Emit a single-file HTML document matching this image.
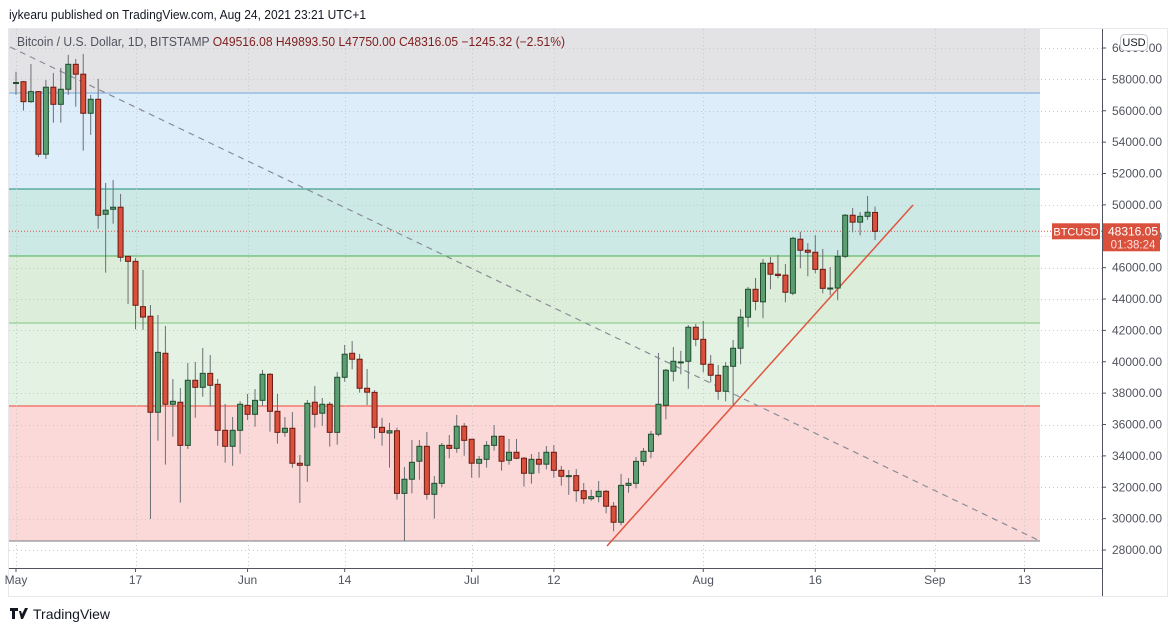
<!DOCTYPE html>
<html><head><meta charset="utf-8">
<style>
body{margin:0;background:#fff;width:1176px;height:632px;overflow:hidden;font-family:"Liberation Sans","DejaVu Sans",sans-serif;}
svg{display:block}
</style></head>
<body>
<svg id="chart" width="1176" height="632" viewBox="0 0 1176 632" xmlns="http://www.w3.org/2000/svg">
<text x="9" y="19" font-size="13" fill="#131722" textLength="357" lengthAdjust="spacingAndGlyphs">iykearu published on TradingView.com, Aug 24, 2021 23:21 UTC+1</text>
<rect x="8.5" y="28.5" width="1159" height="568" fill="#fff" stroke="#e6e8ee"/>
<g id="bands"></g>
<g id="grid"></g>
<g id="drawings"></g>
<g id="candles"></g>
<g id="axes"></g>
<text x="17" y="46" font-size="12.5" fill="#50535e" textLength="548" lengthAdjust="spacingAndGlyphs">Bitcoin / U.S. Dollar, 1D, BITSTAMP  <tspan fill="#7f1d1d">O49516.08  H49893.50  L47750.00  C48316.05  −1245.32 (−2.51%)</tspan></text>
<g>
<path d="M10 608h8v3h-3v8h-3v-8h-2z M19 611h2l1 3 3-6h3l-5 11h-2z" fill="#131722"/>
<text x="33" y="619" font-size="14" fill="#131722">TradingView</text>
</g>
</svg>
<script>
const opens=[57.75,57.85,56.58,57.22,53.23,57.5,56.41,57.37,58.96,58.33,55.84,56.73,49.4,49.72,49.85,46.72,46.4,43.51,42.9,36.78,40.54,37.29,37.42,34.67,38.82,38.37,39.26,38.56,35.63,34.61,35.63,37.22,36.65,37.54,39.2,36.84,35.5,35.76,33.53,33.4,37.42,36.72,37.29,35.5,39.01,40.54,40.16,38.31,38.05,35.82,35.46,35.6,31.61,32.51,33.66,34.61,31.55,32.25,34.67,34.48,35.89,35.06,33.53,33.78,34.67,35.25,33.72,34.23,33.85,32.89,33.78,33.47,34.23,33.08,32.7,32.74,31.78,31.27,31.4,31.74,30.79,29.77,32.12,32.25,33.65,34.29,35.38,37.22,39.4,39.95,40.03,42.2,41.43,39.84,39.14,38.12,39.71,40.86,42.84,44.62,43.82,46.28,45.58,45.52,44.37,47.81,47.11,46.98,45.89,44.66,44.7,46.72,49.34,48.9,49.27,49.516];
const highs=[58.49,57.9,58.98,57.25,57.96,58.41,58.73,59.56,59.3,59.62,57.01,58.03,51.4,51.59,50.7,46.74,46.61,45.85,43.62,42.98,42.28,38.9,38.33,39.92,39.99,40.88,40.43,38.9,37.31,36.48,37.48,37.95,38.26,39.48,39.28,37.95,36.48,36.8,34.06,37.56,38.46,37.69,37.44,39.35,41.07,41.32,40.5,39.54,38.2,36.42,36.1,35.8,33.29,35.01,35.01,35.52,32.72,34.82,35.33,36.61,36.1,35.08,33.99,34.95,35.97,35.27,35.08,35.08,33.93,34.12,34.25,34.63,34.69,33.36,33.1,33.16,32.27,31.84,32.4,31.83,31.06,32.85,32.59,33.93,34.5,35.59,40.56,39.54,40.94,40.7,42.34,42.41,42.6,40.43,39.79,39.97,41.39,43.36,44.77,45.34,46.55,46.68,46.81,46.23,47.95,48.28,47.56,48.07,47.19,46.04,47.12,49.42,49.8,49.55,50.57,49.893];
const lows=[57.01,56.01,56.5,53.05,52.93,55.24,55.24,57.01,56.26,53.46,54.46,48.48,45.68,48.8,46.38,43.68,42.07,42.03,29.98,34.97,33.44,35.22,31.02,34.44,36.43,37.77,37.14,34.65,33.57,33.37,34.14,36.29,35.86,37.18,35.54,34.78,35.22,33.25,31.0,32.35,35.8,35.92,34.59,34.71,38.73,39.52,38.03,37.24,35.1,34.65,33.25,31.21,28.57,31.61,32.48,31.21,30.0,32.0,33.85,34.2,34.01,32.61,32.61,33.25,34.33,33.06,33.44,33.78,32.04,32.23,32.89,33.14,32.61,32.1,31.52,31.08,30.95,31.14,31.04,30.34,29.19,29.57,31.65,31.93,33.37,33.85,35.25,36.33,38.75,39.2,38.28,40.99,39.33,38.69,37.58,37.48,37.22,39.84,42.2,43.28,42.77,44.62,45.32,43.79,44.24,45.96,45.45,45.64,44.36,44.24,43.92,46.6,48.25,48.06,49.04,47.75];
const closes=[57.8,56.58,57.22,53.23,57.5,56.41,57.37,58.96,58.33,55.84,56.73,49.34,49.66,49.85,46.66,46.4,43.6,42.85,36.78,40.6,37.29,37.48,34.67,38.82,38.37,39.26,38.5,35.63,34.61,35.63,37.29,36.65,37.54,39.2,36.84,35.5,35.76,33.53,33.4,37.35,36.65,37.29,35.5,39.01,40.48,40.16,38.31,38.06,35.82,35.5,35.6,31.61,32.51,33.59,34.61,31.55,32.25,34.67,34.48,35.89,34.99,33.53,33.78,34.67,35.25,33.66,34.23,33.85,32.89,33.78,33.47,34.23,33.08,32.7,32.74,31.78,31.27,31.4,31.74,30.79,29.77,32.12,32.25,33.65,34.29,35.38,37.29,39.46,40.03,39.99,42.2,41.43,39.84,39.14,38.12,39.71,40.86,42.84,44.62,43.85,46.28,45.58,45.5,44.43,47.87,47.11,46.98,45.89,44.68,44.7,46.72,49.34,48.9,49.27,49.53,48.316];
const priceTicks=[28000,30000,32000,34000,36000,38000,40000,42000,44000,46000,48000,50000,52000,54000,56000,58000,60000];
const timeLabels=["May","17","Jun","14","Jul","12","Aug","16","Sep","13"];
const timeDays=[0,16,31,44,61,72,92,107,123,135];
const bandLevels=[57130,51010,46740,42470,37180,28570];
const lastPrice=48316.05;

const NS="http://www.w3.org/2000/svg";
const Y=p=>550-(p-28000)*31.375/2000;
const X=d=>16+d*7.47;
function mk(parent,tag,attrs,txt){const e=document.createElementNS(NS,tag);for(const k in attrs)e.setAttribute(k,attrs[k]);if(txt!==undefined)e.textContent=txt;document.getElementById(parent).appendChild(e);return e;}

const bandFills=["#e3e3e6","#ddedfa","#cce9e6","#dcedd9","#e4f2e4","#fbd9d8"];
const bandLines=["#6fa8dc","#1e8a7a","#4caf50","#81c784","#f44336","#787b86"];
let prevY=29;
for(let i=0;i<bandLevels.length;i++){
  const yy=Y(bandLevels[i]);
  const r=mk('bands','rect',{x:9,y:prevY,width:1031,height:Math.max(0,yy-prevY),fill:bandFills[i]});
  
  
  prevY=yy;
}
for(let i=0;i<bandLevels.length;i++){
  const yy=Y(bandLevels[i]);
  const l=mk('bands','line',{x1:9,x2:1040,y1:yy,y2:yy,stroke:bandLines[i],'stroke-width':1});
  
  
}
priceTicks.forEach(p=>{const yy=Math.round(Y(p))+0.5;
  const g=mk('grid','line',{x1:9,x2:1102,y1:yy,y2:yy,stroke:'#c8cad0','stroke-width':1,'stroke-dasharray':'1 3'});
  
  
});
timeDays.forEach(d=>{const xx=Math.round(X(d))+0.5;
  const g=mk('grid','line',{x1:xx,x2:xx,y1:29,y2:569,stroke:'#c8cad0','stroke-width':1,'stroke-dasharray':'1 3'});
  
  
});
const tl=mk('drawings','line',{x1:10,y1:47,x2:1040,y2:541,stroke:'#8a8d96','stroke-width':1.2,'stroke-dasharray':'6 5'});


const ut=mk('drawings','line',{x1:607,y1:546,x2:913,y2:205,stroke:'#e0553f','stroke-width':1.5});


const py=Y(lastPrice);
const pl=mk('drawings','line',{x1:9,x2:1102,y1:py,y2:py,stroke:'#d9534f','stroke-width':1,'stroke-dasharray':'1 2'});


for(let i=0;i<opens.length;i++){
  const x=X(i),o=opens[i]*1000,c=closes[i]*1000,h=highs[i]*1000,l=lows[i]*1000;
  const up=c>=o;
  const w=mk('candles','line',{x1:x,x2:x,y1:Y(h),y2:Y(l),stroke:'#6b6e75','stroke-width':1});
  
  
  const top=Y(Math.max(o,c)),bot=Y(Math.min(o,c));
  const b=mk('candles','rect',{x:x-2.5,y:top,width:5,height:Math.max(1,bot-top),fill:up?'#5b9e72':'#d9503c',stroke:up?'#1f4d2e':'#6b1a12','stroke-width':1});
  
  
}
const ax=mk('axes','line',{x1:1102.5,x2:1102.5,y1:29,y2:596,stroke:'#50535e','stroke-width':1});


const bx=mk('axes','line',{x1:9,x2:1102,y1:568.5,y2:568.5,stroke:'#50535e','stroke-width':1});


priceTicks.forEach(p=>{const yy=Y(p);
  const t=mk('axes','line',{x1:1102,x2:1106,y1:yy,y2:yy,stroke:'#50535e'});
  
  
  const tx=mk('axes','text',{x:1112,y:yy+4,'font-size':12,fill:'#50535e'},p.toFixed(2));
  
  
});
timeDays.forEach((d,i)=>{const xx=X(d);
  const t=mk('axes','line',{x1:xx,x2:xx,y1:568,y2:572,stroke:'#50535e'});
  
  
  const tx=mk('axes','text',{x:xx,y:584,'font-size':12,fill:'#50535e','text-anchor':'middle'},timeLabels[i]);
  
  
});
const ub=mk('axes','rect',{x:1120.5,y:34.5,width:27,height:16,rx:4,fill:'#fff',stroke:'#c8cad0'});


const ut2=mk('axes','text',{x:1134,y:46,'font-size':11,fill:'#131722','text-anchor':'middle'},'USD');


const sr=mk('axes','rect',{x:1052,y:py-8,width:48,height:16,fill:'#d9503c'});


const st=mk('axes','text',{x:1076,y:py+4,'font-size':11,fill:'#fff','text-anchor':'middle'},'BTCUSD');


const lr=mk('axes','rect',{x:1103,y:py-8,width:57,height:28,fill:'#d9503c'});


const lt=mk('axes','text',{x:1133,y:py+4,'font-size':12,fill:'#fff','text-anchor':'middle'},lastPrice.toFixed(2));


const ct=mk('axes','text',{x:1133,y:py+17,'font-size':11.5,fill:'#fde0dc','text-anchor':'middle'},'01:38:24');


</script>
</body></html>
